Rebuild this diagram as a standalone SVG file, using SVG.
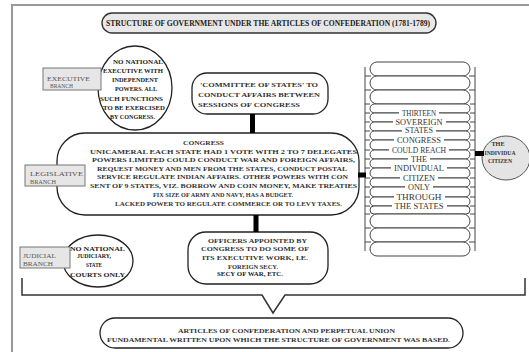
<svg xmlns="http://www.w3.org/2000/svg" width="529" height="352" viewBox="0 0 529 352">
<style>
text{font-family:"Liberation Serif","Times New Roman",serif;fill:#222}
.sh{fill:#fff;stroke:#222;stroke-width:1.3}
.gr{fill:#e8e8e8;stroke:#333;stroke-width:1.4}
.lb{fill:#e6e6e6;stroke:#777;stroke-width:1}
.lt{font-size:7px;fill:#555}
.c7{font-size:7px;font-weight:bold;fill:#333}
.b7{font-size:7px;font-weight:bold}
.col{font-size:8px;fill:#333}
.pill{fill:#fff;stroke:#444;stroke-width:1}
.tick{stroke:#444;stroke-width:1}
.bg{fill:#fff}
.con{stroke:#000;stroke-width:5}
</style>
<rect x="0" y="0" width="529" height="352" fill="#fff"/>
<g id="frame" fill="none" stroke="#999" stroke-width="2">
<polyline points="12,352 12,5 529,5"/>
</g>
<g id="title">
<rect x="102" y="13" width="334" height="20" rx="10" class="gr"/>
<text x="106" y="26" font-size="8" font-weight="bold" fill="#444" textLength="324" lengthAdjust="spacingAndGlyphs">STRUCTURE OF GOVERNMENT UNDER THE ARTICLES OF CONFEDERATION (1781-1789)</text>
</g>
<g id="exec-circle">
<ellipse cx="135" cy="88" rx="37" ry="42" class="sh" stroke-width="1.6"/>
<text class="b7" x="113" y="63.5" textLength="50" lengthAdjust="spacingAndGlyphs">NO NATIONAL</text>
<text class="b7" x="103" y="72.5" textLength="60" lengthAdjust="spacingAndGlyphs">EXECUTIVE WITH</text>
<text class="b7" x="112" y="81.5" textLength="46" lengthAdjust="spacingAndGlyphs">INDEPENDENT</text>
<text class="b7" x="115" y="90.5" textLength="42" lengthAdjust="spacingAndGlyphs">POWERS.  ALL</text>
<text class="b7" x="100" y="100.5" textLength="63" lengthAdjust="spacingAndGlyphs">SUCH FUNCTIONS</text>
<text class="b7" x="103" y="109.5" textLength="62" lengthAdjust="spacingAndGlyphs">TO BE EXERCISED</text>
<text class="b7" x="110" y="118.5" textLength="45" lengthAdjust="spacingAndGlyphs">BY CONGRESS.</text>
</g>
<g id="exec-branch">
<rect x="43" y="68" width="58" height="22" class="lb"/>
<text class="lt" x="47" y="80.5" textLength="43" lengthAdjust="spacingAndGlyphs">EXECUTIVE</text>
<text class="lt" x="50" y="88.3" textLength="23" lengthAdjust="spacingAndGlyphs">BRANCH</text>
</g>
<g id="committee">
<rect x="192" y="73" width="136" height="41" rx="15" class="sh"/>
<text class="c7" x="200" y="86.5" textLength="118" lengthAdjust="spacingAndGlyphs">'COMMITTEE OF STATES' TO</text>
<text class="c7" x="198" y="96.5" textLength="122" lengthAdjust="spacingAndGlyphs">CONDUCT AFFAIRS BETWEEN</text>
<text class="c7" x="198" y="106.5" textLength="102" lengthAdjust="spacingAndGlyphs">SESSIONS OF CONGRESS</text>
</g>
<g id="congress">
<rect x="57" y="133" width="302" height="82" rx="28" class="sh" stroke-width="1.5"/>
<text class="c7" x="183" y="144.5" textLength="41" lengthAdjust="spacingAndGlyphs">CONGRESS</text>
<text class="c7" x="90" y="153.5" textLength="267" lengthAdjust="spacingAndGlyphs">UNICAMERAL EACH  STATE HAD 1 VOTE WITH 2 TO 7 DELEGATES</text>
<text class="c7" x="92" y="162" textLength="263" lengthAdjust="spacingAndGlyphs">POWERS LIMITED COULD CONDUCT WAR AND FOREIGN AFFAIRS,</text>
<text class="c7" x="97" y="170.5" textLength="250" lengthAdjust="spacingAndGlyphs">REQUEST MONEY AND MEN FROM THE STATES, CONDUCT POSTAL</text>
<text class="c7" x="97" y="179" textLength="251" lengthAdjust="spacingAndGlyphs">SERVICE REGULATE INDIAN AFFAIRS. OTHER POWERS WITH CON</text>
<text class="c7" x="90" y="187.5" textLength="267" lengthAdjust="spacingAndGlyphs">SENT OF 9 STATES, VIZ. BORROW AND COIN MONEY, MAKE TREATIES</text>
<text class="c7" x="153" y="197" textLength="140" lengthAdjust="spacingAndGlyphs">FIX SIZE OF ARMY AND NAVY, HAS A BUDGET.</text>
<text class="c7" x="115" y="205.5" textLength="227" lengthAdjust="spacingAndGlyphs">LACKED POWER TO REGULATE COMMERCE OR TO LEVY TAXES.</text>
</g>
<g id="leg-branch">
<rect x="25" y="165" width="60" height="21" class="lb"/>
<text class="lt" x="30" y="175.5" textLength="53" lengthAdjust="spacingAndGlyphs">LEGISLATIVE</text>
<text class="lt" x="30" y="184" textLength="26" lengthAdjust="spacingAndGlyphs">BRANCH</text>
</g>
<g id="officers">
<rect x="188" y="232" width="140" height="52" rx="18" class="sh" stroke-width="1.5"/>
<text class="c7" x="208" y="242.5" textLength="99" lengthAdjust="spacingAndGlyphs">OFFICERS APPOINTED BY</text>
<text class="c7" x="201" y="250.5" textLength="108" lengthAdjust="spacingAndGlyphs">CONGRESS TO DO SOME OF</text>
<text class="c7" x="202" y="259.5" textLength="106" lengthAdjust="spacingAndGlyphs">ITS EXECUTIVE WORK, I.E.</text>
<text class="c7" x="228" y="268.5" textLength="50" lengthAdjust="spacingAndGlyphs">FOREIGN SECY.</text>
<text x="217" y="276" font-size="5.5" font-weight="bold" fill="#444" textLength="66" lengthAdjust="spacingAndGlyphs">SECY OF WAR, ETC.</text>
</g>
<g id="jud-circle">
<ellipse cx="98" cy="261" rx="35" ry="26" class="sh" stroke-width="1.5"/>
<text class="b7" x="70" y="250.5" textLength="55" lengthAdjust="spacingAndGlyphs">NO NATIONAL</text>
<text class="b7" x="77" y="258" textLength="34" lengthAdjust="spacingAndGlyphs">JUDICIARY,</text>
<text class="b7" x="86" y="266.5" textLength="16" lengthAdjust="spacingAndGlyphs">STATE</text>
<text class="b7" x="70" y="276.5" textLength="55" lengthAdjust="spacingAndGlyphs">COURTS ONLY</text>
</g>
<g id="jud-branch">
<rect x="20" y="247" width="50" height="21" class="lb"/>
<text class="lt" x="23" y="257.5" textLength="33" lengthAdjust="spacingAndGlyphs">JUDICIAL</text>
<text class="lt" x="23" y="265.8" textLength="30" lengthAdjust="spacingAndGlyphs">BRANCH</text>
</g>
<g id="states-column">
<line x1="365" y1="67" x2="365" y2="251" class="tick"/>
<line x1="475" y1="67" x2="475" y2="251" class="tick"/>
<rect x="370" y="62" width="100" height="14" rx="7" class="pill"/>
<rect x="370" y="76" width="100" height="14" rx="7" class="pill"/>
<rect x="370" y="90" width="100" height="14" rx="7" class="pill"/>
<rect x="370" y="104" width="100" height="9" rx="4.5" class="pill"/>
<rect x="370" y="113" width="100" height="9" rx="4.5" class="pill"/>
<rect x="370" y="122" width="100" height="9" rx="4.5" class="pill"/>
<rect x="370" y="131" width="100" height="9" rx="4.5" class="pill"/>
<rect x="370" y="140" width="100" height="10" rx="5" class="pill"/>
<rect x="370" y="150" width="100" height="9" rx="4.5" class="pill"/>
<rect x="370" y="159" width="100" height="9" rx="4.5" class="pill"/>
<rect x="370" y="168" width="100" height="10" rx="5" class="pill"/>
<rect x="370" y="178" width="100" height="9" rx="4.5" class="pill"/>
<rect x="370" y="187" width="100" height="10" rx="5" class="pill"/>
<rect x="370" y="197" width="100" height="9" rx="4.5" class="pill"/>
<rect x="370" y="206" width="100" height="8" rx="4" class="pill"/>
<rect x="370" y="214" width="100" height="14" rx="7" class="pill"/>
<rect x="370" y="228" width="100" height="14" rx="7" class="pill"/>
<rect x="370" y="242" width="100" height="14" rx="7" class="pill"/>
<path class="tick" d="M365 76h6M365 90h6M365 104h5M365 113h5M365 122h5M365 131h5M365 140h5M365 150h5M365 159h5M365 168h5M365 178h5M365 187h5M365 197h5M365 206h5M365 214h5M365 228h6M365 242h6M469 76h6M469 90h6M470 104h5M470 113h5M470 122h5M470 131h5M470 140h5M470 150h5M470 159h5M470 168h5M470 178h5M470 187h5M470 197h5M470 206h5M470 214h5M469 228h6M469 242h6"/>
<rect class="bg" x="399" y="108.5" width="40" height="9"/>
<rect class="bg" x="393" y="117.5" width="53" height="9"/>
<rect class="bg" x="402" y="126.5" width="34" height="9"/>
<rect class="bg" x="394" y="135.5" width="50" height="9"/>
<rect class="bg" x="389" y="145.5" width="60" height="9"/>
<rect class="bg" x="408" y="154.5" width="22" height="9"/>
<rect class="bg" x="391" y="163.5" width="56" height="9"/>
<rect class="bg" x="400" y="173.5" width="38" height="9"/>
<rect class="bg" x="405" y="182.5" width="28" height="9"/>
<rect class="bg" x="394" y="192.5" width="51" height="9"/>
<rect class="bg" x="392" y="201.5" width="55" height="9"/>
<g text-anchor="middle">
<text class="col" x="419" y="115.8" textLength="34" lengthAdjust="spacingAndGlyphs">THIRTEEN</text>
<text class="col" x="419" y="124.8" textLength="47" lengthAdjust="spacingAndGlyphs">SOVEREIGN</text>
<text class="col" x="419" y="133.3" font-size="6.5" textLength="28" lengthAdjust="spacingAndGlyphs">STATES</text>
<text class="col" x="419" y="142.8" textLength="44" lengthAdjust="spacingAndGlyphs">CONGRESS</text>
<text class="col" x="419" y="152.8" textLength="54" lengthAdjust="spacingAndGlyphs">COULD REACH</text>
<text class="col" x="419" y="161.8" textLength="16" lengthAdjust="spacingAndGlyphs">THE</text>
<text class="col" x="419" y="170.8" textLength="50" lengthAdjust="spacingAndGlyphs">INDIVIDUAL</text>
<text class="col" x="419" y="180.8" textLength="32" lengthAdjust="spacingAndGlyphs">CITIZEN</text>
<text class="col" x="419" y="189.8" textLength="22" lengthAdjust="spacingAndGlyphs">ONLY</text>
<text class="col" x="419" y="199.8" textLength="45" lengthAdjust="spacingAndGlyphs">THROUGH</text>
<text class="col" x="419" y="208.8" textLength="49" lengthAdjust="spacingAndGlyphs">THE STATES</text>
</g>
</g>
<g id="citizen">
<ellipse cx="506" cy="158" rx="24" ry="22" fill="#e4e4e4" stroke="#555" stroke-width="1"/>
<g text-anchor="middle">
<text class="c7" x="498" y="146" textLength="13" lengthAdjust="spacingAndGlyphs">THE</text>
<text class="c7" x="500" y="154.5" textLength="31" lengthAdjust="spacingAndGlyphs">INDIVIDUA</text>
<text class="c7" x="500" y="163" textLength="24" lengthAdjust="spacingAndGlyphs">CITIZEN</text>
</g>
</g>
<g id="connectors">
<line class="con" x1="252.5" y1="114" x2="252.5" y2="133" stroke-width="4.5"/>
<line class="con" x1="256" y1="215" x2="256" y2="232"/>
<line class="con" x1="358" y1="175" x2="366" y2="175"/>
<line class="con" x1="475" y1="153.5" x2="484" y2="153.5"/>
<polyline points="22,278 22,295 262,295 273,313 285,295 525,295 525,278" fill="none" stroke="#333" stroke-width="1.5"/>
</g>
<g id="articles">
<rect x="100" y="318" width="363" height="30" rx="15" class="sh" stroke-width="1.5"/>
<text class="c7" x="178" y="332.5" textLength="217" lengthAdjust="spacingAndGlyphs">ARTICLES OF CONFEDERATION AND PERPETUAL UNION</text>
<text class="c7" x="107" y="341.5" textLength="343" lengthAdjust="spacingAndGlyphs">FUNDAMENTAL WRITTEN UPON WHICH THE STRUCTURE OF GOVERNMENT WAS BASED.</text>
</g>
</svg>
